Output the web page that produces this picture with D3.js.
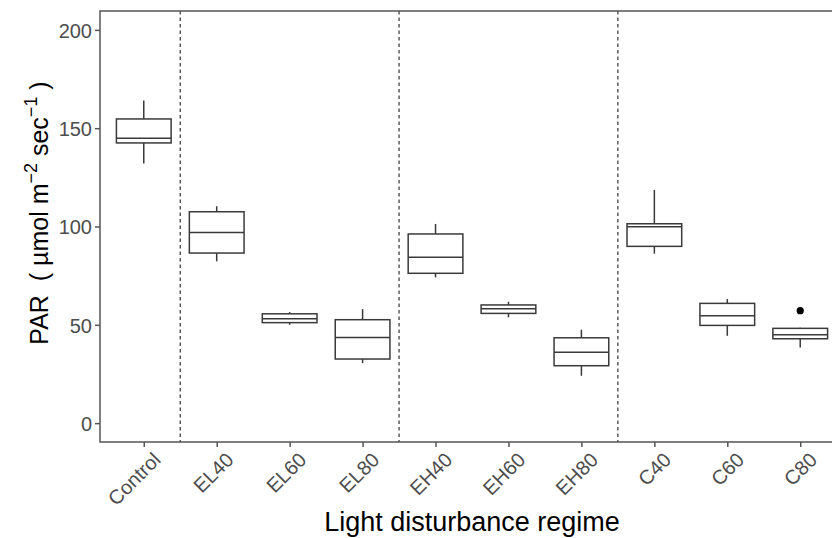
<!DOCTYPE html>
<html>
<head>
<meta charset="utf-8">
<script src="https://cdnjs.cloudflare.com/ajax/libs/d3/7.8.5/d3.min.js"></script>
<style>
  body { margin: 0; background: #fff; }
  svg text { font-family: "Liberation Sans", Arial, sans-serif; }
</style>
</head>
<body>
<div id="chart"></div>
<script>
// box statistics
var categories = ["Control", "EL40", "EL60", "EL80", "EH40", "EH60", "EH80", "C40", "C60", "C80"];
var whiskerLow  = [132.0, 82.3, 50.0, 30.5, 74.1, 53.8, 24.1, 86.2, 44.4, 38.5];
var q1          = [142.5, 86.5, 51.1, 32.6, 76.2, 55.8, 29.2, 89.9, 49.7, 42.9];
var medians     = [144.9, 96.9, 53.1, 43.6, 84.3, 58.2, 36.0, 99.9, 54.6, 44.9];
var q3          = [154.7, 107.5, 55.6, 52.6, 96.2, 60.1, 43.4, 101.4, 60.9, 48.2];
var whiskerHigh = [164.1, 110.3, 56.5, 58.0, 101.3, 61.7, 47.5, 118.6, 63.1, 48.5];
var outliers    = [{ cat: "C80", value: 57.2 }];
var dividers    = [1.5, 4.5, 7.5]; // between groups (1-based category positions)
var yTicks      = [0, 50, 100, 150, 200];

var width = 832, height = 538;
var margin = { top: 11, left: 100, bottom: 96 };
var panelRight = 844; // panel runs past the right edge of the picture

var svg = d3.select("#chart").append("svg")
    .attr("width", width)
    .attr("height", height);

var x = d3.scalePoint()
    .domain(categories)
    .range([margin.left, panelRight])
    .padding(0.6);
var step = x.step();

var y = d3.scaleLinear()
    .domain([-9.6, 209.6])
    .range([height - margin.bottom, margin.top]);

// position on the discrete axis, 1-based like ggplot
function xPos(p) { return x(categories[0]) + (p - 1) * step; }

var boxes = categories.map(function (c, i) {
    return { cat: c, lo: whiskerLow[i], q1: q1[i], med: medians[i], q3: q3[i], hi: whiskerHigh[i] };
});

// dashed group separators
svg.selectAll(".divider")
    .data(dividers)
  .enter().append("line")
    .attr("class", "divider")
    .attr("x1", function (d) { return xPos(d); })
    .attr("x2", function (d) { return xPos(d); })
    .attr("y1", margin.top)
    .attr("y2", height - margin.bottom)
    .attr("stroke", "#333")
    .attr("stroke-width", 1.2)
    .attr("stroke-dasharray", "3.5,3");

var boxW = step * 0.75;
var g = svg.selectAll(".box")
    .data(boxes)
  .enter().append("g")
    .attr("class", "box")
    .attr("stroke", "#3a3a3a")
    .attr("stroke-width", 1.5)
    .attr("fill", "none");

// whiskers
g.append("line")
    .attr("x1", function (d) { return x(d.cat); })
    .attr("x2", function (d) { return x(d.cat); })
    .attr("y1", function (d) { return y(d.hi); })
    .attr("y2", function (d) { return y(d.q3); });
g.append("line")
    .attr("x1", function (d) { return x(d.cat); })
    .attr("x2", function (d) { return x(d.cat); })
    .attr("y1", function (d) { return y(d.q1); })
    .attr("y2", function (d) { return y(d.lo); });

g.append("rect")
    .attr("x", function (d) { return x(d.cat) - boxW / 2; })
    .attr("width", boxW)
    .attr("y", function (d) { return y(d.q3); })
    .attr("height", function (d) { return y(d.q1) - y(d.q3); })
    .attr("fill", "#fff");

g.append("line")
    .attr("x1", function (d) { return x(d.cat) - boxW / 2; })
    .attr("x2", function (d) { return x(d.cat) + boxW / 2; })
    .attr("y1", function (d) { return y(d.med); })
    .attr("y2", function (d) { return y(d.med); });

svg.selectAll(".outlier")
    .data(outliers)
  .enter().append("circle")
    .attr("class", "outlier")
    .attr("cx", function (d) { return x(d.cat); })
    .attr("cy", function (d) { return y(d.value); })
    .attr("r", 3.6)
    .attr("fill", "#000");

// panel border (left, top, bottom)
svg.append("path")
    .attr("d", "M" + panelRight + "," + margin.top + "H" + margin.left +
               "V" + (height - margin.bottom) + "H" + panelRight)
    .attr("fill", "none")
    .attr("stroke", "#555")
    .attr("stroke-width", 1.5);

// y axis
var yAxis = svg.append("g")
    .attr("transform", "translate(" + margin.left + ",0)")
    .call(d3.axisLeft(y).tickValues(yTicks).tickSize(5).tickPadding(3));
yAxis.select(".domain").remove();
yAxis.selectAll(".tick line").attr("stroke", "#555").attr("stroke-width", 1.5);
yAxis.selectAll(".tick text")
    .attr("fill", "#4d4d4d")
    .attr("dy", "0.36em")
    .style("font-size", "20px")
    .style("font-family", "'Liberation Sans', Arial, sans-serif");

// x axis
var xAxis = svg.append("g")
    .attr("transform", "translate(0," + (height - margin.bottom) + ")")
    .call(d3.axisBottom(x).tickSize(5).tickFormat(""));
xAxis.select(".domain").remove();
xAxis.selectAll(".tick line").attr("stroke", "#555").attr("stroke-width", 1.5);

svg.selectAll(".xlab")
    .data(categories)
  .enter().append("text")
    .attr("class", "xlab")
    .attr("transform", function (d) {
        return "translate(" + (x(d) + 8) + "," + (height - margin.bottom + 9) + ") rotate(-45)";
    })
    .attr("text-anchor", "end")
    .attr("dy", "0.71em")
    .attr("fill", "#4d4d4d")
    .style("font-size", "20px")
    .text(function (d) { return d; });

// axis titles
svg.append("text")
    .attr("x", (margin.left + panelRight) / 2)
    .attr("y", 531)
    .attr("text-anchor", "middle")
    .attr("fill", "#000")
    .style("font-size", "27px")
    .text("Light disturbance regime");

var yt = svg.append("text")
    .attr("transform", "translate(48,213) rotate(-90)")
    .attr("text-anchor", "middle")
    .attr("fill", "#000")
    .style("font-size", "25px");
yt.append("tspan").text("PAR\u00a0\u00a0(\u00a0\u00b5mol m");
yt.append("tspan").attr("dy", -11).style("font-size", "18px").text("\u22122");
yt.append("tspan").attr("dy", 11).text("\u00a0sec");
yt.append("tspan").attr("dy", -11).style("font-size", "18px").text("\u22121");
yt.append("tspan").attr("dy", 11).text("\u00a0)");
</script>
</body>
</html>
